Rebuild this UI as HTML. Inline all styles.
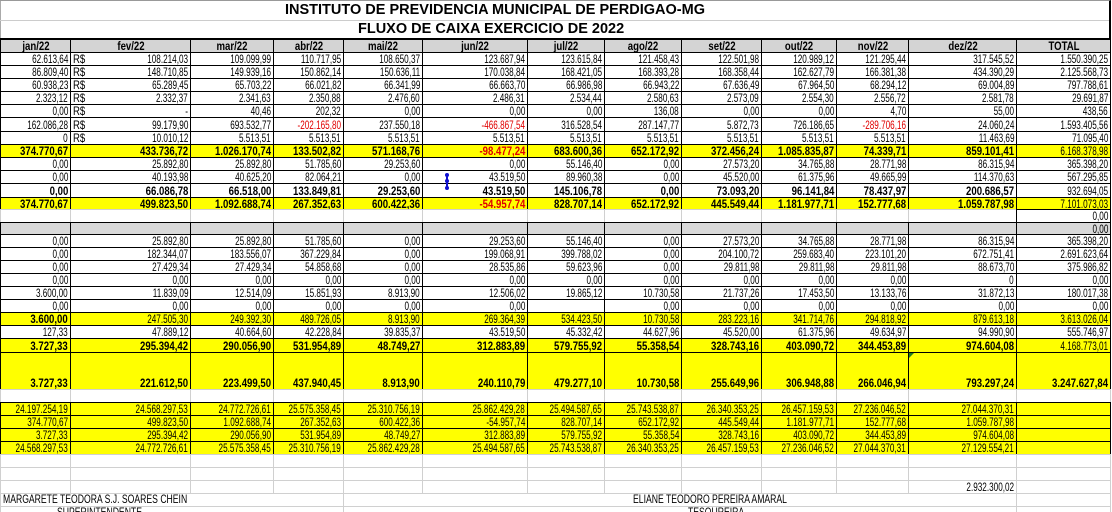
<!DOCTYPE html>
<html><head><meta charset="utf-8">
<style>
html,body{margin:0;padding:0;background:#fff;}
#sheet{position:relative;width:1112px;height:512px;overflow:hidden;font-family:"Liberation Sans",Arial,sans-serif;color:#000;}
.c{position:absolute;box-sizing:border-box;overflow:visible;white-space:nowrap;}
.t{position:absolute;right:2px;bottom:0;font-size:12px;transform:scaleX(.68);transform-origin:right bottom;}
.b .t{font-weight:bold;transform:scaleX(.8);}
.ctr .t{right:auto;left:50%;transform:translateX(-50%) scaleX(.8);transform-origin:center bottom;}
.title{position:absolute;font-weight:bold;font-size:14.5px;white-space:nowrap;}
</style></head>
<body>
<div id="sheet">
  <div class="c" style="left:0;top:0;width:1px;height:512px;background:#aaa"></div>
  <div class="c" style="left:0;top:0;width:1111px;height:40px;border-top:1px solid #999;border-right:2px solid #000;border-bottom:2px solid #000"></div>
  <div class="c" style="left:0;top:20px;width:1109px;height:1px;background:#ccc"></div>
  <div class="title" style="left:285px;top:2px">INSTITUTO DE PREVIDENCIA MUNICIPAL DE PERDIGAO-MG</div>
  <div class="title" style="left:358px;top:21px">FLUXO DE CAIXA EXERCICIO DE 2022</div>
</div>
<script>
const headers=["jan/22","fev/22","mar/22","abr/22","mai/22","jun/22","jul/22","ago/22","set/22","out/22","nov/22","dez/22","TOTAL"];
const r1=["62.613,64","108.214,03","109.099,99","110.717,95","108.650,37","123.687,94","123.615,84","121.458,43","122.501,98","120.989,12","121.295,44","317.545,52","1.550.390,25"];
const r2=["86.809,40","148.710,85","149.939,16","150.862,14","150.636,11","170.038,84","168.421,05","168.393,28","168.358,44","162.627,79","166.381,38","434.390,29","2.125.568,73"];
const r3=["60.938,23","65.289,45","65.703,22","66.021,82","66.341,99","66.663,70","66.986,98","66.943,22","67.636,49","67.964,50","68.294,12","69.004,89","797.788,61"];
const r4=["2.323,12","2.332,37","2.341,63","2.350,88","2.476,60","2.486,31","2.534,44","2.580,63","2.573,09","2.554,30","2.556,72","2.581,78","29.691,87"];
const r5=["0,00","-   ","40,46","202,32","0,00","0,00","0,00","136,08","0,00","0,00","4,70","55,00","438,56"];
const r6=["162.086,28","99.179,90","693.532,77","-202.165,80","237.550,18","-466.867,54","316.528,54","287.147,77","5.872,73","726.186,65","-289.706,16","24.060,24","1.593.405,56"];
const r7=["0","10.010,12","5.513,51","5.513,51","5.513,51","5.513,51","5.513,51","5.513,51","5.513,51","5.513,51","5.513,51","11.463,69","71.095,40"];
const r8=["374.770,67","433.736,72","1.026.170,74","133.502,82","571.168,76","-98.477,24","683.600,36","652.172,92","372.456,24","1.085.835,87","74.339,71","859.101,41","6.168.378,98"];
const r9=["0,00","25.892,80","25.892,80","51.785,60","29.253,60","0,00","55.146,40","0,00","27.573,20","34.765,88","28.771,98","86.315,94","365.398,20"];
const r10=["0,00","40.193,98","40.625,20","82.064,21","0,00","43.519,50","89.960,38","0,00","45.520,00","61.375,96","49.665,99","114.370,63","567.295,85"];
const r11=["0,00","66.086,78","66.518,00","133.849,81","29.253,60","43.519,50","145.106,78","0,00","73.093,20","96.141,84","78.437,97","200.686,57","932.694,05"];
const r12=["374.770,67","499.823,50","1.092.688,74","267.352,63","600.422,36","-54.957,74","828.707,14","652.172,92","445.549,44","1.181.977,71","152.777,68","1.059.787,98","7.101.073,03"];
const rBlank=["","","","","","","","","","","","","0,00"];
const rGray=["","","","","","","","","","","","","0,00"];
const l1=["0,00","25.892,80","25.892,80","51.785,60","0,00","29.253,60","55.146,40","0,00","27.573,20","34.765,88","28.771,98","86.315,94","365.398,20"];
const l2=["0,00","182.344,07","183.556,07","367.229,84","0,00","199.068,91","399.788,02","0,00","204.100,72","259.683,40","223.101,20","672.751,41","2.691.623,64"];
const l3=["0,00","27.429,34","27.429,34","54.858,68","0,00","28.535,86","59.623,96","0,00","29.811,98","29.811,98","29.811,98","88.673,70","375.986,82"];
const l4=["0,00","0,00","0,00","0,00","0,00","0,00","0,00","0,00","0,00","0,00","0,00","0","0,00"];
const l5=["3.600,00","11.839,09","12.514,09","15.851,93","8.913,90","12.506,02","19.865,12","10.730,58","21.737,26","17.453,50","13.133,76","31.872,13","180.017,38"];
const l6=["0,00","0,00","0,00","0,00","0,00","0,00","","0,00","0,00","0,00","0,00","0,00","0,00"];
const l7=["3.600,00","247.505,30","249.392,30","489.726,05","8.913,90","269.364,39","534.423,50","10.730,58","283.223,16","341.714,76","294.818,92","879.613,18","3.613.026,04"];
const l8=["127,33","47.889,12","40.664,60","42.228,84","39.835,37","43.519,50","45.332,42","44.627,96","45.520,00","61.375,96","49.634,97","94.990,90","555.746,97"];
const l9=["3.727,33","295.394,42","290.056,90","531.954,89","48.749,27","312.883,89","579.755,92","55.358,54","328.743,16","403.090,72","344.453,89","974.604,08","4.168.773,01"];
const l10=["3.727,33","221.612,50","223.499,50","437.940,45","8.913,90","240.110,79","479.277,10","10.730,58","255.649,96","306.948,88","266.046,94","793.297,24","3.247.627,84"];
const b1=["24.197.254,19","24.568.297,53","24.772.726,61","25.575.358,45","25.310.756,19","25.862.429,28","25.494.587,65","25.743.538,87","26.340.353,25","26.457.159,53","27.236.046,52","27.044.370,31",""];
const b2=["374.770,67","499.823,50","1.092.688,74","267.352,63","600.422,36","-54.957,74","828.707,14","652.172,92","445.549,44","1.181.977,71","152.777,68","1.059.787,98",""];
const b3=["3.727,33","295.394,42","290.056,90","531.954,89","48.749,27","312.883,89","579.755,92","55.358,54","328.743,16","403.090,72","344.453,89","974.604,08",""];
const b4=["24.568.297,53","24.772.726,61","25.575.358,45","25.310.756,19","25.862.429,28","25.494.587,65","25.743.538,87","26.340.353,25","26.457.159,53","27.236.046,52","27.044.370,31","27.129.554,21",""];
const rowNames=["contribuicao-servidor-row","contribuicao-patronal-row","aporte-row","parcelamento-row","outras-receitas-row","rendimentos-row","compensacao-row","total-receitas-row","despesa-a-row","despesa-b-row","subtotal-row","saldo-receitas-row","blank-row","section-header-row","desp-1-row","desp-2-row","desp-3-row","desp-4-row","desp-5-row","desp-6-row","total-beneficios-row","adm-row","total-despesas-row","resultado-row","blank-row-2","saldo-anterior-row","receitas-mes-row","despesas-mes-row","saldo-final-row"];
const rowData=[r1,r2,r3,r4,r5,r6,r7,r8,r9,r10,r11,r12,rBlank,rGray,l1,l2,l3,l4,l5,l6,l7,l8,l9,l10,null,b1,b2,b3,b4];
</script>
<script>
const sheet=document.getElementById('sheet');
const X=[0,70,190,273,343,422,527,604,681,761,836,908,1016,1110];
const layout=[[52,13,'n'],[65,13,'n'],[78,13,'n'],[91,13,'n'],[104,13,'n'],[117,14,'n'],[131,13,'n'],[144,13,'yb'],[157,13,'n'],[170,13,'n'],[183,14,'b'],[197,12,'yb'],
[209,13,'blank'],[222,12,'gray'],[234,13,'n'],[247,13,'n'],[260,13,'n'],[273,13,'n'],[286,13,'n'],[299,13,'n'],[312,13,'yn'],[325,13,'n'],[338,14,'yb'],[352,37,'yb'],[389,13,'blank2'],[402,13,'yn'],[415,13,'yn'],[428,13,'yn'],[441,13,'yn']];
function mk(x0,x1,y0,h,txt,o){
  const d=document.createElement('div');
  d.className='c'+(o.bold?' b':'')+(o.center?' ctr':'');
  d.style.left=x0+'px';d.style.top=y0+'px';d.style.width=(x1-x0+1)+'px';d.style.height=(h+1)+'px';
  d.style.border='1px solid '+(o.bc||'#000');
  if(o.bg)d.style.background=o.bg;
  if(o.btop)d.style.borderTop=o.btop;
  if(txt!==''&&txt!=null){const s=document.createElement('span');s.className='t';s.textContent=txt;
    if(o.red)s.style.color='#e00000';
    s.style.lineHeight=(o.lh||h)+'px';s.style.bottom='-1px';d.appendChild(s);}
  sheet.appendChild(d);return d;
}
headers.forEach((h,i)=>{
  const d=mk(X[i],X[i+1],38,14,h,{bold:true,center:true,bg:'#d4d4d4',btop:'2px solid #000',lh:13});
  
  
});
layout.forEach((L,ri)=>{
  const [y,h,k]=L;const data=rowData[ri];
  for(let i=0;i<13;i++){
    let v=data?data[i]:'';
    const o={};
    if(k==='yb'){o.bg='#ffff00';o.bold=i<12||ri===23;}
    if(k==='yn'){o.bg='#ffff00';if(ri===20&&i===0)o.bold=true;}
    if(k==='b'){o.bold=i<12;}
    if(k==='gray'){o.bg='#d9d9d9';}
    if(k==='blank'&&i<12){o.bc='#d0d0d0';}
    if(k==='blank2'){o.bc='#d0d0d0';}
    if(v&&v[0]==='-'&&v.length>2&&(ri===5||ri===7||ri===11)) o.red=true;
    if(ri===23){o.lh=13;}
    const d=mk(X[i],X[i+1],y,h,v,o);
    
    
  }
});
for(let r=0;r<7;r++){
  const s=document.createElement('div');
  s.className='c';s.style.left='73px';s.style.top=(layout[r][0]+1)+'px';s.style.fontSize='12px';s.style.lineHeight=layout[r][1]+'px';
  s.style.transform='scaleX(.8)';s.style.transformOrigin='left';s.textContent='R$';
  
  
  sheet.appendChild(s);
}
[[454,13],[467,13],[480,13]].forEach(([y,h],k)=>{
  for(let i=0;i<13;i++){
    const v=(k===2&&i===11)?'2.932.300,02':'';
    const d=mk(X[i],X[i+1],y,h,v,{bc:'#d0d0d0'});
    
    
  }
});
[[493,13],[506,13]].forEach(([y,h])=>{
  [[0,343],[343,1016],[1016,1110]].forEach(([a,b])=>{
    const d=mk(a,b,y,h,'',{bc:'#d0d0d0'});
    
    
  });
});
function label(x,y,t,name){
  const s=document.createElement('div');
  s.className='c';s.style.left=x+'px';s.style.top=y+'px';s.style.fontSize='12px';
  s.style.transform='scaleX(.72)';s.style.transformOrigin='left';s.textContent=t;
  
  
  sheet.appendChild(s);
}
label(3,492,'MARGARETE TEODORA S.J. SOARES CHEIN','superintendent-name');
label(57,505,'SUPERINTENDENTE','superintendent-title');
label(633,492,'ELIANE TEODORO PEREIRA AMARAL','treasurer-name');
label(688,505,'TESOUREIRA','treasurer-title');
const ns='http://www.w3.org/2000/svg';
const svg=document.createElementNS(ns,'svg');
svg.setAttribute('width','1112');svg.setAttribute('height','512');
svg.style.position='absolute';svg.style.left='0';svg.style.top='0';svg.style.pointerEvents='none';
svg.innerHTML='<line x1="447" y1="175" x2="447" y2="188" stroke="#1010d0" stroke-width="2"/><circle cx="447" cy="175" r="2" fill="#1010d0"/><circle cx="447" cy="181" r="2" fill="#1010d0"/><circle cx="447" cy="188" r="2" fill="#1010d0"/><polygon points="909,353 914,353 909,358" fill="#208020"/>';


sheet.appendChild(svg);
</script>
</body></html>
